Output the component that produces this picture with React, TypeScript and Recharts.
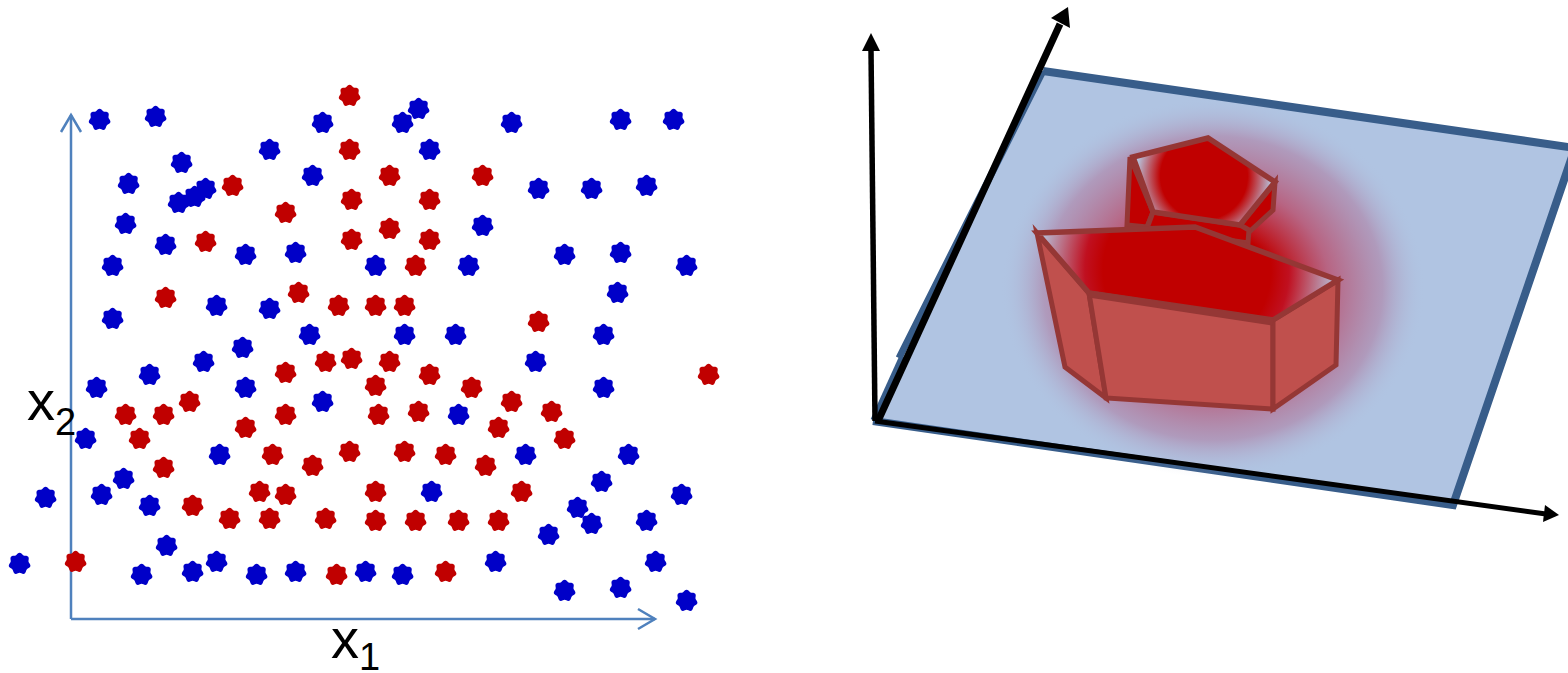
import React from "react";
import { ScatterChart, Scatter, XAxis, YAxis } from "recharts";

type P = { x: number; y: number };
const pts = (a: number[][]): P[] => a.map(([x, y]) => ({ x, y }));

const bluePoints = pts([
  [99,119],[155,116],[322,122],[402,122],[418,108],[511,122],[620,119],[673,119],
  [269,149],[429,149],[181,162],[128,183],[312,175],[205,188],[194,196],[178,202],[538,188],[591,188],[646,185],
  [125,223],[482,225],[165,244],[245,254],[295,252],[564,254],[620,252],[112,265],[375,265],[468,265],[686,265],
  [617,292],[216,305],[269,308],[112,318],[309,334],[404,334],[455,334],[603,334],[242,347],[203,361],[535,361],
  [149,374],[96,387],[245,387],[603,387],[322,401],[458,414],[85,438],[219,454],[525,454],[628,454],
  [123,478],[601,481],[101,494],[45,497],[431,491],[681,494],[149,505],[577,507],[591,523],[646,520],[548,534],
  [166,545],[19,563],[216,561],[495,561],[655,561],[141,574],[192,571],[256,574],[295,571],[365,571],[402,574],
  [564,590],[620,587],[686,600],
]);
const redPoints = pts([
  [349,95],[349,149],[389,175],[482,175],[232,185],[351,199],[429,199],[285,212],[389,228],[205,241],[351,239],[429,239],
  [415,265],[165,297],[298,292],[338,305],[375,305],[404,305],[538,321],[325,361],[351,358],[389,361],[285,372],[429,374],
  [375,385],[471,387],[708,374],[189,401],[511,401],[125,414],[163,414],[285,414],[378,414],[418,411],[551,411],[245,427],
  [498,427],[139,438],[564,438],[349,451],[272,454],[404,451],[445,454],[312,465],[485,465],[163,467],[259,491],[285,494],
  [375,491],[521,491],[192,505],[229,518],[269,518],[325,518],[375,520],[415,520],[458,520],[498,520],[75,561],[336,574],[445,571],
]);

const x2Axis = pts([[71,619],[71,115]]);
const x2Head = pts([[61,132],[71,115],[81,132]]);
const x1Axis = pts([[71,619],[655,619]]);
const x1Head = pts([[638,609],[655,619],[638,629]]);

const planeCorners = pts([[873,421],[1043,71],[1575,148],[1455,505]]);
const planeOutline = pts([[1043,71],[1575,148],[1453,505],[873,421]]);
const planeLeftUpper = pts([[899,358],[1000,157],[1043,71]]);
const planeLeftLower = pts([[873,420],[902,356]]);
const glowCentre = pts([[1213,288]]);

const smallLeft = pts([[1130,157],[1127,225],[1147,227],[1153,212]]);
const smallRight = pts([[1275,182],[1273,210],[1248,233],[1240,225]]);
const smallFront = pts([[1153,212],[1147,228],[1248,243],[1249,230],[1240,225]]);
const smallTop = pts([[1133,157],[1208,138],[1275,182],[1240,225],[1153,212]]);
const bigTop = pts([[1037,233],[1195,227],[1338,280],[1273,320],[1089,293]]);
const bigLeft = pts([[1037,233],[1089,293],[1106,398],[1065,367]]);
const bigFront = pts([[1089,293],[1273,320],[1273,409],[1106,398]]);
const bigRight = pts([[1273,320],[1338,280],[1336,365],[1273,409]]);
const bigTopFrontEdge = pts([[1089,294],[1273,322]]);

const verticalAxis = pts([[875,421],[871,50]]);
const verticalHead = pts([[871,33],[880,51],[862,51]]);
const diagonalAxis = pts([[878,421],[1060,24]]);
const diagonalHead = pts([[1068,7],[1070,28],[1051,18]]);
const bottomAxis = pts([[875,421],[1546,514]]);
const bottomHead = pts([[1559,515],[1543,522],[1545,505]]);

const labelTexts = ["x", "2", "x", "1"];
const labelAnchors = pts([[27,420],[55,435],[331,658],[359,670]]);
const labelSizes = [56, 38, 56, 38];

const flower = (cx: number, cy: number) => {
  let d = "";
  const n = 70;
  for (let i = 0; i < n; i++) {
    const a = (i / n) * 2 * Math.PI;
    const r = 10.1 + 0.95 * Math.cos(7 * a);
    d += `${i ? "L" : "M"}${(cx + r * Math.sin(a)).toFixed(2)} ${(cy - r * Math.cos(a)).toFixed(2)}`;
  }
  return d + "Z";
};

const none = () => null;

function poly(data: P[], fill: string, stroke: string, width: number, closed = true) {
  return (
    <Scatter
      data={data}
      isAnimationActive={false}
      shape={none as any}
      lineType="joint"
      line={((p: any) => {
        const d =
          p.points.map((q: P, i: number) => `${i ? "L" : "M"}${q.x} ${q.y}`).join("") + (closed ? "Z" : "");
        return <path key="l" d={d} fill={fill} stroke={stroke} strokeWidth={width} />;
      }) as any}
    />
  );
}

function dots(data: P[], color: string) {
  return (
    <Scatter
      data={data}
      isAnimationActive={false}
      shape={((p: any) => <path d={flower(p.cx + 0.6, p.cy + 0.7)} fill={color} />) as any}
    />
  );
}

export default function App() {
  return (
    <div style={{ position: "absolute", left: 0, top: 0, width: 1568, height: 673 }}>
      <ScatterChart width={1568} height={673} margin={{ top: 0, right: 0, bottom: 0, left: 0 }}>
        <defs>
          <radialGradient id="glow">
            <stop offset="0.3" stopColor="#C00000" stopOpacity={1} />
            <stop offset="0.55" stopColor="#BC2A48" stopOpacity={0.62} />
            <stop offset="0.8" stopColor="#AE5078" stopOpacity={0.36} />
            <stop offset="1" stopColor="#B0C4E2" stopOpacity={0} />
          </radialGradient>
          <radialGradient id="bigFace" gradientUnits="userSpaceOnUse" cx={1187} cy={270} r={150}>
            <stop offset="0.56" stopColor="#C00000" />
            <stop offset="0.68" stopColor="#C01020" />
            <stop offset="1" stopColor="#B6C4DE" />
          </radialGradient>
          <radialGradient id="smallFace" gradientUnits="userSpaceOnUse" cx={1204} cy={176} r={68}>
            <stop offset="0.64" stopColor="#C00000" />
            <stop offset="1" stopColor="#B6C4DE" />
          </radialGradient>
        </defs>
        <XAxis type="number" dataKey="x" domain={[0, 1568]} hide allowDataOverflow />
        <YAxis type="number" dataKey="y" domain={[0, 673]} reversed hide allowDataOverflow />

        {poly(x2Axis, "none", "#4F81BD", 2.5, false)}
        {poly(x2Head, "none", "#4F81BD", 2.5, false)}
        {poly(x1Axis, "none", "#4F81BD", 2.5, false)}
        {poly(x1Head, "none", "#4F81BD", 2.5, false)}
        {dots(bluePoints, "#0000C8")}
        {dots(redPoints, "#C00000")}

        {poly(planeCorners, "#B0C4E2", "none", 0)}
        {poly(planeOutline, "none", "#385D8A", 8, false)}
        {poly(planeLeftUpper, "none", "#385D8A", 7, false)}
        {poly(planeLeftLower, "none", "#385D8A", 5, false)}

        <Scatter
          data={glowCentre}
          isAnimationActive={false}
          shape={((p: any) => <ellipse cx={p.cx} cy={p.cy} rx={212} ry={190} fill="url(#glow)" />) as any}
        />

        {poly(smallLeft, "#C00000", "#953735", 5)}
        {poly(smallRight, "#C00000", "#953735", 5)}
        {poly(smallFront, "#C00000", "#953735", 5)}
        {poly(smallTop, "url(#smallFace)", "#953735", 5.5)}
        {poly(bigLeft, "#C0504D", "#953735", 5)}
        {poly(bigFront, "#C0504D", "#953735", 5)}
        {poly(bigRight, "#C0504D", "#953735", 5)}
        {poly(bigTop, "url(#bigFace)", "#953735", 5.5)}
        {poly(bigTopFrontEdge, "none", "#953735", 7, false)}

        {poly(verticalAxis, "none", "#000000", 5.5, false)}
        {poly(verticalHead, "#000000", "none", 0)}
        {poly(diagonalAxis, "none", "#000000", 7, false)}
        {poly(diagonalHead, "#000000", "none", 0)}
        {poly(bottomAxis, "none", "#000000", 5, false)}
        {poly(bottomHead, "#000000", "none", 0)}

        <Scatter
          data={labelAnchors}
          isAnimationActive={false}
          shape={((p: any) => (
            <text x={p.cx} y={p.cy} fontFamily="'Liberation Sans', sans-serif" fontSize={labelSizes[p.index]} fill="#000">
              {labelTexts[p.index]}
            </text>
          )) as any}
        />
      </ScatterChart>
    </div>
  );
}
